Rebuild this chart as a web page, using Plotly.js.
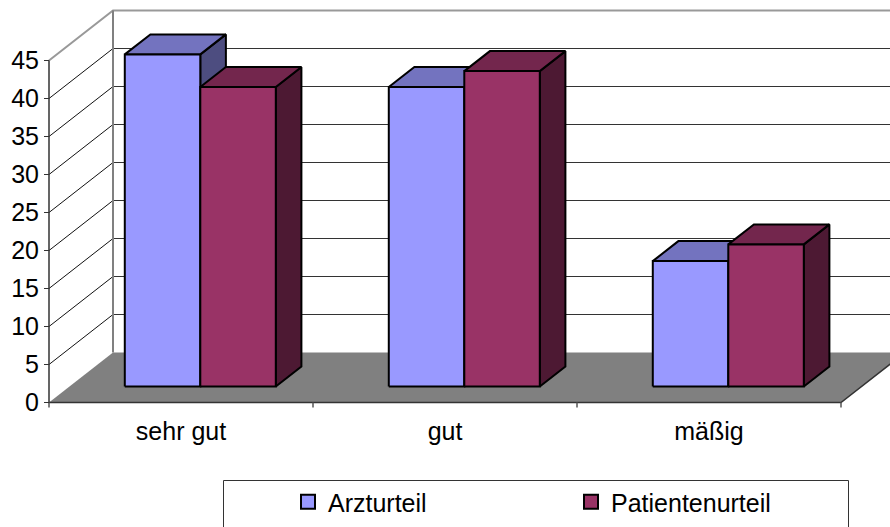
<!DOCTYPE html>
<html>
<head>
<meta charset="utf-8">
<script src="https://cdn.plot.ly/plotly-3.0.1.min.js"></script>
<style>html,body{margin:0;padding:0;background:#fff;overflow:hidden}#chart{width:890px;height:527px}</style>
</head>
<body>
<div id="chart"></div>
<script>
// DATA
const categories = ['sehr gut', 'gut', 'mäßig'];
const arzturteil = [43.7, 39.4, 16.5];
const patientenurteil = [39.4, 41.5, 18.7];
const yTicks = [0, 5, 10, 15, 20, 25, 30, 35, 40, 45];

// PROJECTION (oblique: depth 0 = front plane, depth 1 = back wall)
const W = 890, H = 527, x0px = 49, slotPx = 264, y0px = 402.5, unitPx = 7.6;
const depthX = 64 / slotPx, depthY = 50 / unitPx;
const barD0 = 0.32, barD1 = 0.72, barOffset = 0.2095, barW = 0.286;
const xRange = [-x0px / slotPx, (W - x0px) / slotPx];
const yRange = [-(H - y0px) / unitPx, y0px / unitPx];
const px = (s, v, d) => s + d * depthX;
const py = (s, v, d) => v + d * depthY;
const nCat = categories.length;

function seg(points) { return {x: points.map(p => px(...p)), y: points.map(p => py(...p))}; }
function line(points, color, width) {
  const g = seg(points);
  return {type: 'scatter', mode: 'lines', x: g.x, y: g.y, line: {color, width}, hoverinfo: 'skip', showlegend: false};
}
function faces(list, fill) {
  const xs = [], ys = [];
  list.forEach(poly => { const g = seg(poly); xs.push(...g.x, g.x[0], null); ys.push(...g.y, g.y[0], null); });
  return {type: 'scatter', mode: 'lines', x: xs, y: ys, fill: 'toself', fillcolor: fill,
    line: {color: '#000', width: 2}, hoverinfo: 'skip', showlegend: false};
}

const traces = [];
// walls & gridlines
yTicks.forEach(v => {
  if (v > 0 && v < 45) {
    traces.push(line([[nCat, v, 1], [0, v, 1]], '#333', 1));
    traces.push(line([[0, v, 1], [0, v, 0]], '#111', 1));
  }
});
traces.push(line([[nCat, 45, 1], [0, 45, 1], [0, 45, 0]], '#999', 2));
traces.push(line([[0, 0, 1], [0, 45, 1]], '#808080', 2));
// floor
traces.push(Object.assign(faces([[[0, 0, 0], [nCat, 0, 0], [nCat, 0, 1], [0, 0, 1]]], '#808080'), {line: {color: '#808080', width: 0}}));
// front axes
traces.push(line([[nCat, 0, 1], [nCat, 0, 0], [0, 0, 0], [0, 45, 0]], '#333', 1.5));
const tickDown = 5 / unitPx;
for (let i = 0; i <= nCat; i++) traces.push(line([[i, 0, 0], [i, -tickDown, 0]], '#555', 1.5));

// bars
function barFaces(values, shift) {
  const front = [], top = [], side = [];
  values.forEach((v, i) => {
    const a = i + barOffset + shift * barW, b = a + barW;
    front.push([[a, 0, barD0], [b, 0, barD0], [b, v, barD0], [a, v, barD0]]);
    top.push([[a, v, barD0], [b, v, barD0], [b, v, barD1], [a, v, barD1]]);
    side.push([[b, 0, barD0], [b, 0, barD1], [b, v, barD1], [b, v, barD0]]);
  });
  return {front, top, side};
}
const fa = barFaces(arzturteil, 0), fp = barFaces(patientenurteil, 1);
traces.push(faces(fa.side, '#4D4D80'), faces(fa.top, '#7373BF'), faces(fa.front, '#9999FF'));
traces.push(faces(fp.side, '#4D1933'), faces(fp.top, '#73264D'), faces(fp.front, '#993366'));

// legend entries
[['Arzturteil', '#9999FF'], ['Patientenurteil', '#993366']].forEach(([name, color]) => {
  traces.push({type: 'scatter', mode: 'markers', x: [null], y: [null], name,
    marker: {symbol: 'square', size: 14, color, line: {color: '#000', width: 2}}, hoverinfo: 'skip'});
});

const font = {family: '"Liberation Sans", Arial, sans-serif', size: 25, color: '#000'};
const layout = {
  width: W, height: H, margin: {l: 0, r: 0, t: 0, b: 0}, autosize: false,
  paper_bgcolor: '#fff', plot_bgcolor: '#fff', font,
  xaxis: {range: xRange, anchor: 'free', position: (H - y0px) / H, showgrid: false, zeroline: false,
    tickmode: 'array', tickvals: categories.map((c, i) => i + 0.5), ticktext: categories,
    ticks: 'outside', ticklen: 6, tickcolor: 'rgba(0,0,0,0)', tickfont: font, fixedrange: true},
  yaxis: {range: yRange, anchor: 'free', position: x0px / W, showgrid: false, zeroline: false,
    tickmode: 'array', tickvals: yTicks, ticktext: yTicks.map(String),
    ticks: 'outside', ticklen: 5, tickcolor: '#333', tickwidth: 1.5, tickfont: font, fixedrange: true},
  showlegend: true,
  legend: {orientation: 'h', x: 288 / W, xanchor: 'left', y: 1 - 479 / H, yanchor: 'top',
    entrywidth: 238, entrywidthmode: 'pixels', bgcolor: 'rgba(0,0,0,0)', borderwidth: 0, font, traceorder: 'normal'},
  shapes: [{type: 'rect', xref: 'paper', yref: 'paper', x0: 223.5 / W, x1: 848.5 / W, y0: -0.05, y1: 1 - 480.5 / H,
    line: {color: '#333', width: 1}, fillcolor: '#fff', layer: 'below'}]
};
Plotly.newPlot('chart', traces, layout, {displayModeBar: false, staticPlot: true});
</script>
</body>
</html>
